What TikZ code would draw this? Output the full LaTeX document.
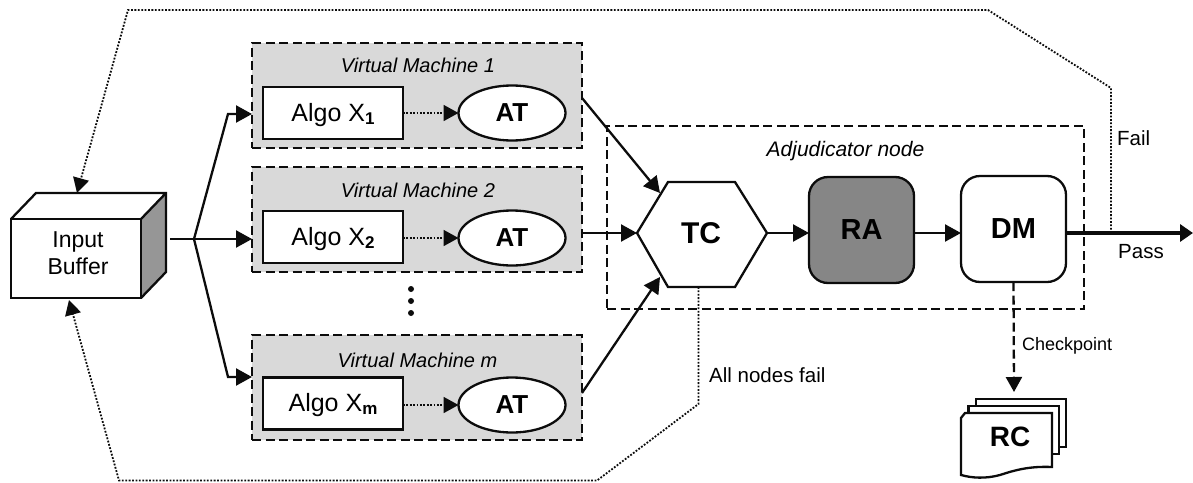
\documentclass[tikz,border=0pt]{standalone}
\usepackage{fontspec}
\setmainfont{Liberation Sans}
\usetikzlibrary{arrows.meta,calc,shapes.geometric}
\definecolor{vmgray}{HTML}{D9D9D9}
\definecolor{ragray}{HTML}{868686}
\definecolor{sidegray}{HTML}{969696}
\definecolor{ink}{HTML}{0C0C0C}
\tikzset{
  box/.style={draw=ink,line width=2.3pt,fill=white,inner sep=0pt,outer sep=0pt},
  vmbox/.style={draw=ink,fill=vmgray,line width=2.4pt,dash pattern=on 9pt off 4.5pt,inner sep=0pt,outer sep=0pt,minimum width=330pt,minimum height=105pt},
  adjbox/.style={draw=ink,line width=2.4pt,dash pattern=on 9pt off 4.5pt,inner sep=0pt,outer sep=0pt,minimum width=477pt,minimum height=183pt},
  algobox/.style={box,minimum width=140pt,minimum height=52pt,text height=18.5pt,text depth=2pt,font=\fontsize{25}{28}\selectfont},
  atnode/.style={box,ellipse,minimum width=107pt,minimum height=55pt,font=\fontsize{26}{28}\selectfont\bfseries},
  flow/.style={draw=ink,line width=2.3pt,-{Triangle[length=16pt,width=17pt]}},
  dotflow/.style={draw=ink,line width=1.8pt,dash pattern=on 1.8pt off 1.6pt,-{Triangle[length=15pt,width=16pt]}},
  dashflow/.style={draw=ink,line width=2.3pt,dash pattern=on 9pt off 4.5pt,-{Triangle[length=15pt,width=16pt]}},
  roundbox/.style={draw=ink,line width=2.3pt,rounded corners=19pt,inner sep=0pt,outer sep=0pt,minimum width=105pt,minimum height=106pt,font=\fontsize{29}{32}\selectfont\bfseries},
  lbl/.style={inner sep=0pt,font=\fontsize{20.5}{24}\selectfont},
  ilbl/.style={inner sep=0pt,font=\fontsize{20}{24}\selectfont\itshape},
  dotmark/.style={circle,fill=ink,inner sep=0pt,minimum size=6pt},
}
\newcommand{\sbs}[1]{\raisebox{-3pt}{\fontsize{17}{17}\selectfont\bfseries #1}}
\begin{document}
\begin{tikzpicture}[x=1pt,y=-1pt]
\useasboundingbox (0,0) rectangle (1193,482);
% Input buffer
\fill[sidegray] (141,219) -- (166,193) -- (166,272) -- (141,298) -- cycle;
\draw[ink,line width=2.3pt,line join=miter] (11,219) -- (36,193) -- (166,193) -- (166,272) -- (141,298) (141,219) -- (166,193);
\node[box,minimum width=130pt,minimum height=79pt] (buf) at (76,258.5) {};
\node[inner sep=0pt,align=center,font=\fontsize{23}{27}\selectfont] (buft) at (78,253.5) {Input\\Buffer};
% Virtual machines
\node[vmbox] (vm1) at (417,95.5) {};
\node[vmbox] (vm2) at (417,219.5) {};
\node[vmbox] (vmm) at (417,387.5) {};
\node[ilbl] (vm1t) at (418,65) {Virtual Machine 1};
\node[ilbl] (vm2t) at (418,190) {Virtual Machine 2};
\node[ilbl] (vmmt) at (417.5,360) {Virtual Machine m};
\node[algobox] (a1) at (333,113) {Algo X\sbs{1}};
\node[algobox] (a2) at (333,237) {Algo X\sbs{2}};
\node[algobox] (am) at (333,403.5) {Algo X\sbs{m}};
\node[atnode] (t1) at (512,113) {AT};
\node[atnode] (t2) at (512,238) {AT};
\node[atnode] (tm) at (512,405) {AT};
\draw[dotflow] (a1.east) -- (t1.west);
\draw[dotflow] (a2.east |- t2.west) -- (t2.west);
\draw[dotflow] (am.east |- tm.west) -- (tm.west);
\node[dotmark] (d1) at (411,289) {};
\node[dotmark] (d2) at (411,301) {};
\node[dotmark] (d3) at (411,313) {};
% Adjudicator
\node[adjbox] (adj) at (845.5,217.5) {};
\node[ilbl,font=\fontsize{21}{24}\selectfont\itshape] (adjt) at (845.5,151) {Adjudicator node};
\draw[box] (637,233) -- (668,182) -- (735,182) -- (767,233) -- (735,287) -- (668,287) -- cycle;
\node[inner sep=0pt,font=\fontsize{30}{34}\selectfont\bfseries] (tc) at (701,233) {TC};
\coordinate (tcw) at (637,233);
\coordinate (tce) at (767,233);
\coordinate (tcnw) at (660,193);
\coordinate (tcsw) at (660,277);
\coordinate (tcs) at (698.5,287);
\node[roundbox,fill=ragray] (ra) at (861.5,230) {RA};
\node[roundbox,fill=white] (dm) at (1013.5,229) {DM};
% RC stack
\draw[box] (976,399) -- (1066,399) -- (1066,447) -- (976,447) -- cycle;
\draw[box] (968.5,406) -- (1059,406) -- (1059,454) -- (968.5,454) -- cycle;
\draw[box] (965,413) -- (1052,413) -- (1052,467) .. controls (1030,466) and (1015,470) .. (1000,475) .. controls (985,479) and (972,478) .. (961,475) -- (961,418) -- cycle;
\node[inner sep=0pt,font=\fontsize{28}{32}\selectfont\bfseries] (rc) at (1010,437) {RC};
% Flow from the buffer
\coordinate (bufout) at (170,239);
\coordinate (fork) at (194,239);
\coordinate (e1) at (228,114);
\coordinate (em) at (228,377);
\coordinate (vm1in) at (252,114);
\coordinate (vm2in) at (252,239);
\coordinate (vmmin) at (252,377);
\draw[draw=ink,line width=2.3pt] (bufout) -- (fork);
\draw[flow] (fork) -- (e1) -- (vm1in);
\draw[flow] (fork) -- (vm2in);
\draw[flow] (fork) -- (em) -- (vmmin);
% To TC
\coordinate (o1) at (582,98);
\coordinate (o2) at (582,233);
\coordinate (om) at (582,393);
\draw[flow] (o1) -- (tcnw);
\draw[flow] (o2) -- (tcw);
\draw[flow] (om) -- (tcsw);
\draw[flow] (tce) -- (ra.west |- tce);
\draw[flow] (ra.east |- tce) -- (dm.west |- tce);
% Fail loop
\coordinate (passend) at (1193,233);
\coordinate (failp) at (1111,233);
\coordinate (f1) at (1111,88);
\coordinate (f2) at (988,10);
\coordinate (f3) at (128,10);
\coordinate (bufn) at (77,193);
\draw[dotflow] (failp) -- (f1) -- (f2) -- (f3) -- (bufn);
% Pass
\draw[draw=ink,line width=4.6pt,-{Triangle[length=13pt,width=17pt]}] (dm.east |- tce) -- (passend);
% All nodes fail loop
\coordinate (g1) at (698.5,404);
\coordinate (g2) at (597,480.5);
\coordinate (g3) at (119,480.5);
\coordinate (bufs) at (69,300);
\draw[dotflow] (tcs) -- (g1) -- (g2) -- (g3) -- (bufs);
% Checkpoint
\coordinate (rcin) at (1014,392);
\draw[dashflow] (dm.south) -- (rcin);
% Labels
\node[lbl,anchor=west] (fail) at (1117,138) {Fail};
\node[lbl,anchor=west] (pass) at (1118,252) {Pass};
\node[lbl,anchor=west,font=\fontsize{18}{22}\selectfont] (chk) at (1022,346) {Checkpoint};
\node[lbl,anchor=west] (anf) at (709,375) {All nodes fail};
\end{tikzpicture}
\end{document}
